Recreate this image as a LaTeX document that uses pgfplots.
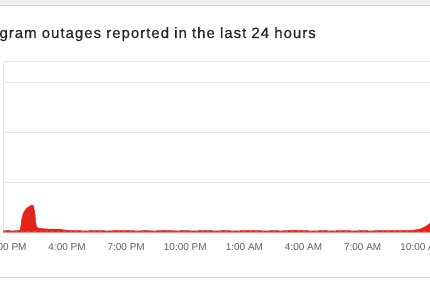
\documentclass[border=0pt]{standalone}
\usepackage{pgfplots}
\pgfplotsset{compat=1.18}
\usepackage{pgfplotstable}
\usepackage{fontspec}
\setmainfont{Liberation Sans}
\newfontfamily\titlefont[LetterSpace=6.6, FakeBold=0.4]{Liberation Sans}
\definecolor{outred}{HTML}{E5231B}
\definecolor{titlegray}{HTML}{262626}
\definecolor{tickgray}{HTML}{5F5F5F}
\definecolor{linegray}{HTML}{E6E6E6}

% Reports per sample; x in hours after 1:00 PM
\pgfplotstableread{
h     r
-0.25 1.2
0.0   1.3
0.3   1.2
0.55  1.4
0.61  1.8
0.66  6
0.71  14
0.81  20
0.97  24
1.12  26
1.22  27
1.30  26
1.37  18
1.42  8
1.47  4.5
1.63  3.5
2.0   3
2.5   3
2.8   2.2
3.0   1.6
3.5   1.3
4.0   1.2
4.5   1.5
5.0   1.2
5.5   1.3
6.0   1.4
6.5   1.2
7.0   1.3
7.5   1.2
8.0   1.5
8.5   1.2
9.0   1.3
9.5   1.2
10.0  1.4
10.5  1.2
11.0  1.3
11.5  1.2
12.0  1.3
12.5  1.5
13.0  1.2
13.5  1.3
14.0  1.2
14.5  1.8
15.0  1.3
15.5  1.2
16.0  1.3
16.5  1.2
17.0  1.4
17.5  1.2
18.0  1.3
18.5  1.2
19.0  1.5
19.5  1.3
20.0  1.3
20.4  1.5
20.7  2.2
20.95 3.2
21.2  5.5
21.45 9
21.7  15
22.0  24
}\reports

\begin{document}
\begin{tikzpicture}[x=1pt,y=1pt]
\clip (0,0) rectangle (430,287);
\fill[white] (0,0) rectangle (430,287);
\fill[black!5] (0,282) rectangle (430,287);
\draw[black!18, line width=0.9pt] (0,282) -- (430,282);
\draw[black!15, line width=0.9pt] (0,10) -- (430,10);
\node[anchor=base east, inner sep=0pt, text=titlegray,
      font=\titlefont\fontsize{15}{18}\selectfont] at (316,249)
  {Instagram outages reported in the last 24 hours};
\begin{axis}[
  at={(3pt,55pt)}, anchor=south west,
  scale only axis, width=473pt, height=171pt,
  xmin=-0.25, xmax=23.75, ymin=0, ymax=171,
  axis line style={linegray, line width=0.8pt},
  ytick={50,100,150}, yticklabels={},
  ymajorgrids, grid style={linegray, line width=0.8pt},
  xtick={0,3,6,9,12,15,18,21},
  xticklabels={1:00 PM,4:00 PM,7:00 PM,10:00 PM,1:00 AM,4:00 AM,7:00 AM,10:00 AM},
  major tick length=0pt,
  xticklabel style={anchor=base, yshift=-18.7pt, text=tickgray,
                    font=\fontsize{10}{12}\selectfont},
  clip=true,
]
\addplot[fill=outred, draw=outred, line width=0.5pt] table[x=h, y=r] {\reports} \closedcycle;
\addplot[black!55, line width=0.5pt, dash pattern=on 3pt off 3pt]
  coordinates {(-0.25,1) (23.75,1)};
\end{axis}
\end{tikzpicture}
\end{document}
